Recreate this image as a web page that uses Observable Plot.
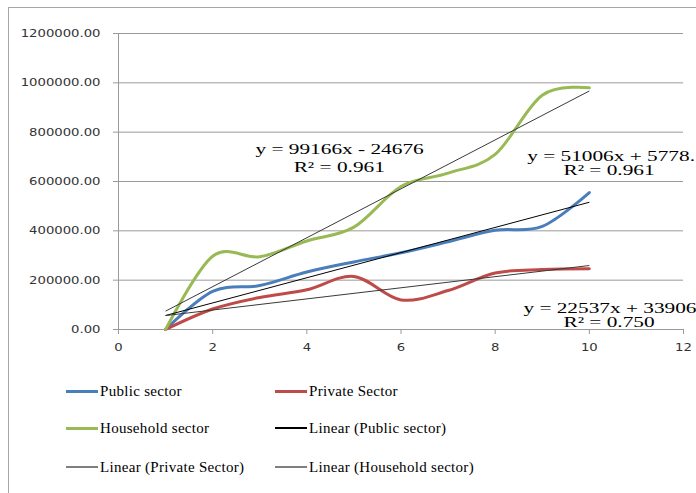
<!DOCTYPE html>
<html><head><meta charset="utf-8">
<script src="https://cdn.jsdelivr.net/npm/d3@7"></script>
<script src="https://cdn.jsdelivr.net/npm/@observablehq/plot@0.6"></script>
<style>
html,body{margin:0;padding:0;background:#fff;width:696px;height:493px;overflow:hidden;}
#frame{position:absolute;left:8px;top:7px;width:740px;height:540px;border:1px solid #a6a6a6;box-sizing:border-box;}
#chart{position:absolute;left:0;top:0;}
#legend{position:absolute;left:0;top:0;width:696px;height:493px;font-family:"Liberation Serif",serif;font-size:15px;letter-spacing:0.3px;color:#000;}
.item{position:absolute;display:flex;align-items:center;height:20px;white-space:nowrap;}
.sw{width:32px;margin-right:2px;}
</style>
</head><body>
<div id="frame"></div>
<div id="chart"></div>
<div id="legend"></div>
<script>
// ---- data ----
const years = [1, 2, 3, 4, 5, 6, 7, 8, 9, 10];
const publicSector = [0, 155000, 178000, 233000, 274000, 311000, 356000, 402000, 418000, 555000];
const privateSector = [0, 83000, 130000, 161000, 215000, 120000, 158000, 229000, 243000, 246000];
const householdSector = [0, 297000, 295000, 359000, 415000, 580000, 634000, 710000, 950000, 980000];
const seriesNames = ["Public sector", "Private Sector", "Household sector"];
const trendNames = ["Linear (Public sector)", "Linear (Private Sector)", "Linear (Household sector)"];
const trendSlopes = [51006, 22537, 99166];
const trendIntercepts = [5778, 33906, -24676];
const equationLabels = ["y = 51006x + 5778.", "y = 22537x + 33906", "y = 99166x - 24676"];
const r2Labels = ["R² = 0.961", "R² = 0.750", "R² = 0.961"];
const xTicks = [0, 2, 4, 6, 8, 10, 12];
const yTicks = [0, 200000, 400000, 600000, 800000, 1000000, 1200000];

// ---- styles ----
const seriesColors = ["#4a7ebb", "#be4b48", "#98b954"];
const trendColors = ["#000000", "#3a3a3a", "#3a3a3a"];
const legendTrendColors = ["#000000", "#7f7f7f", "#7f7f7f"];
const axisGray = "#9a9a9a";

const seriesValues = [publicSector, privateSector, householdSector];
const rows = seriesValues.flatMap((vals, i) => years.map((x, j) => ({series: seriesNames[i], idx: i, x, y: vals[j]})));
const x0 = years[0], x1 = years[years.length - 1];
const trends = trendSlopes.map((m, i) => ({
  idx: i, x1: x0, y1: m * x0 + trendIntercepts[i], x2: x1, y2: m * x1 + trendIntercepts[i]
}));
// label anchors (data coordinates) for the equation annotations, order: public, private, household
const labelAnchors = [
  {x: 8.68, y: 703000, x2: 9.45, y2: 644000},
  {x: 8.60, y: 87000, x2: 9.45, y2: 28000},
  {x: 2.91, y: 729000, x2: 3.72, y2: 659000}
];
const eqRows = labelAnchors.flatMap((a, i) => [
  {x: a.x, y: a.y, t: equationLabels[i]},
  {x: a.x2, y: a.y2, t: r2Labels[i]}
]);

const chart = Plot.plot({
  width: 696,
  height: 372,
  marginLeft: 118,
  marginRight: 13,
  marginTop: 33,
  marginBottom: 43,
  x: {domain: [0, 12]},
  y: {domain: [0, 1200000]},
  style: {background: "transparent", overflow: "visible"},
  marks: [
    Plot.gridY(yTicks, {stroke: axisGray, strokeOpacity: 1}),
    Plot.axisY(yTicks, {
      tickSize: 5, tickPadding: 13, stroke: axisGray, strokeOpacity: 1,
      tickFormat: d => d.toFixed(2), fontSize: 11, fontFamily: "DejaVu Sans", fill: "#333"
    }),
    Plot.axisX(xTicks, {
      tickSize: 5, tickPadding: 9, stroke: axisGray, strokeOpacity: 1,
      fontSize: 11, fontFamily: "DejaVu Sans", fill: "#333"
    }),
    Plot.ruleX([0], {stroke: axisGray}),
    Plot.ruleY([0], {stroke: axisGray}),
    Plot.line(rows, {
      x: "x", y: "y", z: "series",
      stroke: d => seriesColors[d.idx],
      strokeWidth: 3,
      curve: d3.curveCardinal.tension(0)
    }),
    Plot.link(trends, {
      x1: "x1", y1: "y1", x2: "x2", y2: "y2",
      stroke: d => trendColors[d.idx], strokeWidth: 1
    }),
    Plot.text(eqRows, {
      x: "x", y: "y", text: "t", textAnchor: "start",
      fontSize: 15, fontFamily: "Liberation Serif", fill: "#000"
    })
  ]
});
document.getElementById("chart").appendChild(chart);
function stretch(sel, factor) {
  d3.select(chart).selectAll(sel).each(function () {
    const w = this.getComputedTextLength();
    this.setAttribute("textLength", (w * factor).toFixed(1));
    this.setAttribute("lengthAdjust", "spacingAndGlyphs");
  });
}
stretch('g[aria-label="text"] text', 1.42);
stretch('g[aria-label="y-axis tick label"] text', 1.2);
stretch('g[aria-label="x-axis tick label"] text', 1.2);

// ---- legend ----
const legendItems = [
  {name: seriesNames[0], color: seriesColors[0], w: 3, col: 0, row: 0},
  {name: seriesNames[1], color: seriesColors[1], w: 3, col: 1, row: 0},
  {name: seriesNames[2], color: seriesColors[2], w: 3, col: 0, row: 1},
  {name: trendNames[0], color: legendTrendColors[0], w: 1.3, col: 1, row: 1},
  {name: trendNames[1], color: legendTrendColors[1], w: 2, col: 0, row: 2},
  {name: trendNames[2], color: legendTrendColors[2], w: 2, col: 1, row: 2}
];
const colLeft = [66, 275];
const rowCenter = [391, 428, 467];
const legend = document.getElementById("legend");
legendItems.forEach(it => {
  const d = document.createElement("div");
  d.className = "item";
  d.style.left = colLeft[it.col] + "px";
  d.style.top = (rowCenter[it.row] - 10) + "px";
  const sw = document.createElement("span");
  sw.className = "sw";
  sw.style.height = it.w + "px";
  sw.style.background = it.color;
  const tx = document.createElement("span");
  tx.textContent = it.name;
  d.appendChild(sw); d.appendChild(tx);
  legend.appendChild(d);
});
</script>
</body></html>
